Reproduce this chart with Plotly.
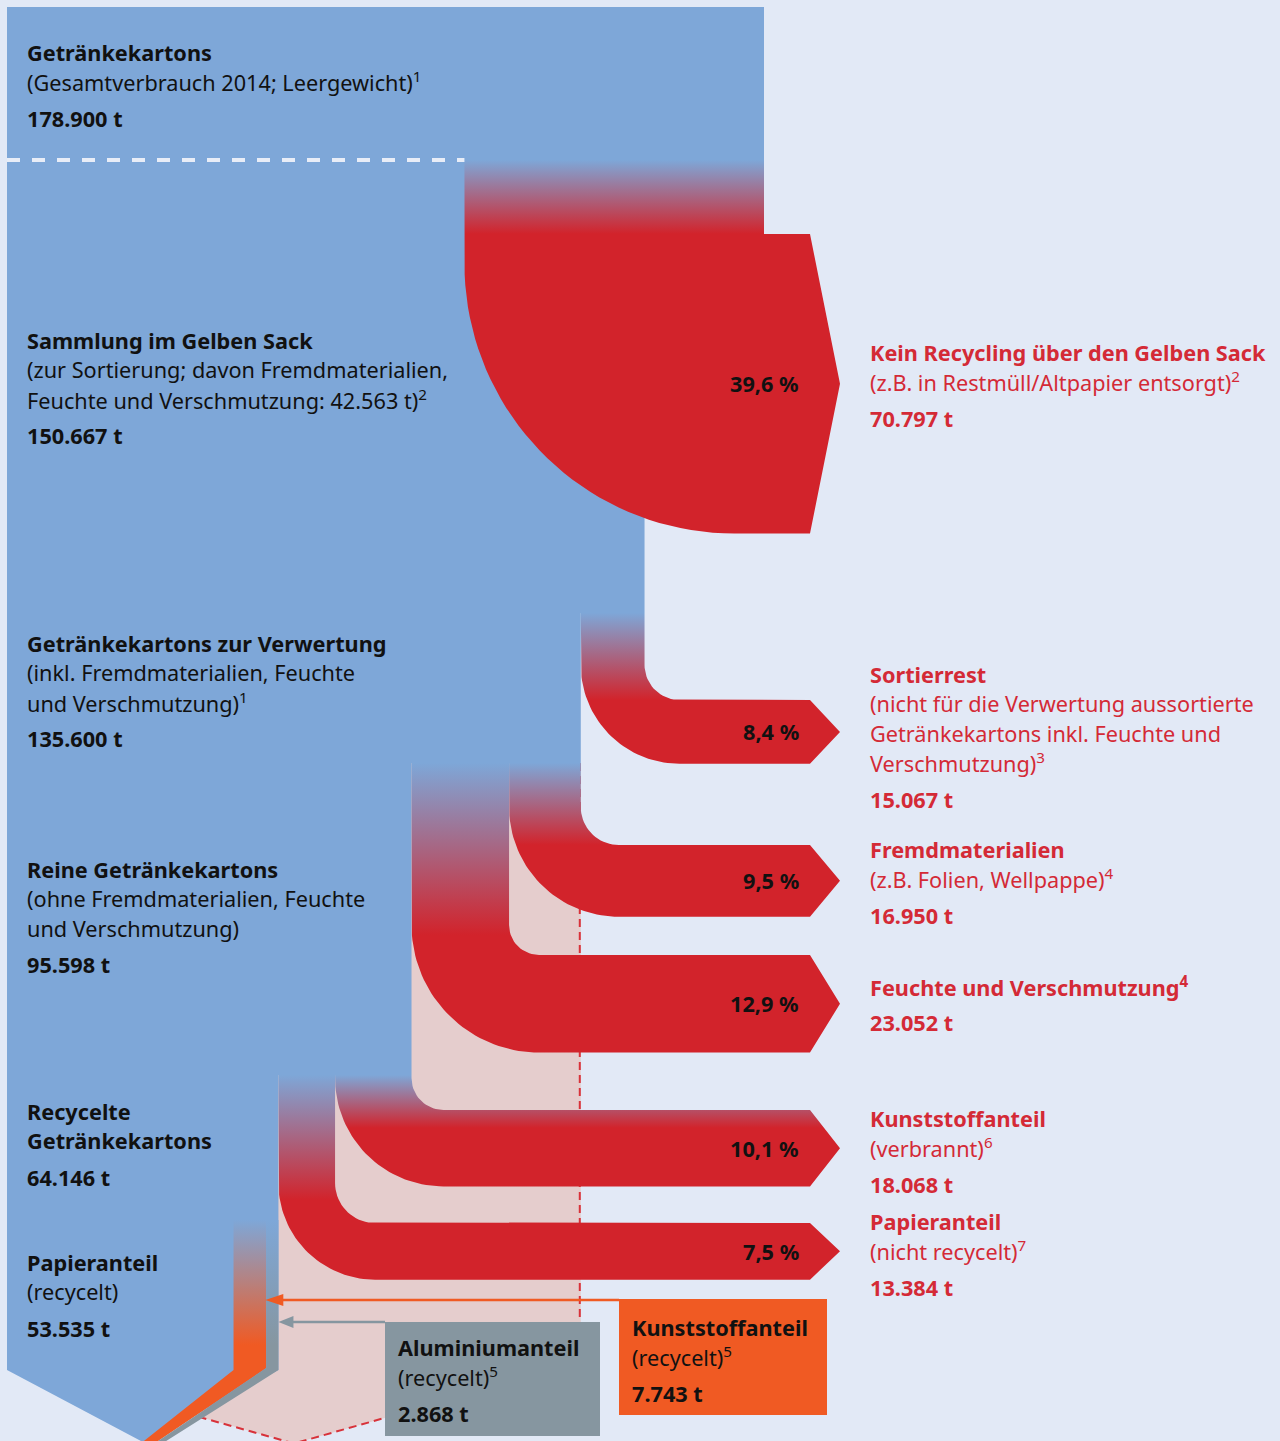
import numpy as np
import plotly.graph_objects as go

# ---------------- data ----------------
stage_titles = [["Getränkekartons"], ["Sammlung im Gelben Sack"], ["Getränkekartons zur Verwertung"],
                ["Reine Getränkekartons"], ["Recycelte", "Getränkekartons"], ["Papieranteil"]]
stage_notes = [
    ["(Gesamtverbrauch 2014; Leergewicht)<sup>1</sup>"],
    ["(zur Sortierung; davon Fremdmaterialien,", "Feuchte und Verschmutzung: 42.563 t)<sup>2</sup>"],
    ["(inkl. Fremdmaterialien, Feuchte", "und Verschmutzung)<sup>1</sup>"],
    ["(ohne Fremdmaterialien, Feuchte", "und Verschmutzung)"],
    [],
    ["(recycelt)"],
]
stage_tonnes = [178900, 150667, 135600, 95598, 64146, 53535]

loss_titles = [["Kein Recycling über den Gelben Sack"], ["Sortierrest"], ["Fremdmaterialien"],
               ["Feuchte und Verschmutzung<sup>4</sup>"], ["Kunststoffanteil"], ["Papieranteil"]]
loss_notes = [
    ["(z.B. in Restmüll/Altpapier entsorgt)<sup>2</sup>"],
    ["(nicht für die Verwertung aussortierte", "Getränkekartons inkl. Feuchte und", "Verschmutzung)<sup>3</sup>"],
    ["(z.B. Folien, Wellpappe)<sup>4</sup>"],
    [],
    ["(verbrannt)<sup>6</sup>"],
    ["(nicht recycelt)<sup>7</sup>"],
]
loss_tonnes = [70797, 15067, 16950, 23052, 18068, 13384]
loss_source = [0, 1, 2, 2, 3, 3]

recycled_titles = [["Aluminiumanteil"], ["Kunststoffanteil"]]
recycled_notes = [["(recycelt)<sup>5</sup>"], ["(recycelt)<sup>5</sup>"]]
recycled_tonnes = [2868, 7743]

# ---------------- style / layout ----------------
W, H = 1280, 1441
BG = "#e2e9f6"
BLUE = "#7ea7d8"
RED = "#d2232b"
PINK = "#e5cdcd"
ORANGE = "#f05a23"
GRAY = "#8696a0"
TXT = "#111111"
TXT_RED = "#d42a36"
FONT = "Noto Sans"
FS = 21.7

X0 = 7
FULL_W = 757
S = FULL_W / stage_tonnes[0]
TOP_Y = 7
COL_TOP = [160, 613, 763, 763, 1075, 1075]
BAND_TOP = [234, 700, 845, 955, 1110, 1223]
GRAD_END = [234, 700, 845, 935, 1128, 1200]
R_IN = [0, 35, 38, 30, 32, 40]
R_OUT_FIXED = [270, None, None, None, None, None]
ARROW_END, ARROW_TIP = 810, 840
BOTTOM_Y = 1370
STRIP_TOP, STRIP_GRAD_END = 1220, 1345
GHOST_BOTTOM = 1363
GHOST_SLOPE = 0.2806
LEFT_TX, RIGHT_TX, PCT_X = 25, 868, 801
LEFT_Y = [52, 340, 643, 869, 1111, 1262]
RIGHT_Y = [352, 674, 849, 986, 1118, 1221]
LINE, TGAP = 29.5, 36.5
GRAY_BOX = (385, 600, 1322, 1436)
ORANGE_BOX = (619, 827, 1299, 1415)

fig = go.Figure()


def poly(pts, color, grad=None):
    xs = [p[0] for p in pts] + [pts[0][0]]
    ys = [p[1] for p in pts] + [pts[0][1]]
    tr = go.Scatter(x=xs, y=ys, mode="lines", fill="toself", fillcolor=color,
                    line=dict(width=0, color=color), hoverinfo="skip", showlegend=False)
    if grad is not None:
        c0, c1, y0, y1 = grad
        tr.fillgradient = dict(type="vertical", colorscale=[[0, c0], [1, c1]], start=y0, stop=y1)
    fig.add_trace(tr)


def line(xs, ys, color, width, dash="solid"):
    fig.add_trace(go.Scatter(x=xs, y=ys, mode="lines", line=dict(color=color, width=width, dash=dash),
                             hoverinfo="skip", showlegend=False))


def fmt_t(v):
    return f"{v:,}".replace(",", ".") + " t"


def fmt_pct(v):
    return f"{v / stage_tonnes[0] * 100:.1f}".replace(".", ",") + " %"


# stage right edges
R = [X0 + S * t for t in stage_tonnes]

# loss columns
loss_x = []
prev_src, prev_xl = None, None
for i, t in enumerate(loss_tonnes):
    src = loss_source[i]
    xr = R[src] if src != prev_src else prev_xl
    xl = xr - S * t
    loss_x.append((xl, xr))
    prev_src, prev_xl = src, xl

# bottom chevron of recycled column
apex = ((X0 + R[4]) / 2, BOTTOM_Y + 0.53 * (R[4] - X0) / 2)
kun_edge = R[5] + S * recycled_tonnes[1]

# ghost (pink) chevron for the 135.600 t column
g_apex = ((X0 + R[2]) / 2, GHOST_BOTTOM + GHOST_SLOPE * (R[2] - X0) / 2)
poly([(X0, COL_TOP[2]), (R[2], COL_TOP[2]), (R[2], GHOST_BOTTOM), g_apex, (X0, GHOST_BOTTOM)], PINK)
line([R[2] - 1, R[2] - 1, g_apex[0], X0], [COL_TOP[2], GHOST_BOTTOM, g_apex[1], GHOST_BOTTOM],
     "#d8323a", 2, "8px,5px")

# blue main column
poly([(X0, TOP_Y), (R[0], TOP_Y), (R[0], COL_TOP[0]), (R[1], COL_TOP[0]), (R[1], COL_TOP[1]),
      (R[2], COL_TOP[1]), (R[2], COL_TOP[2]), (R[3], COL_TOP[2]), (R[3], COL_TOP[4]),
      (R[4], COL_TOP[4]), (R[4], BOTTOM_Y), apex, (X0, BOTTOM_Y)], BLUE)

# loss flows
pct_y = []
for i, t in enumerate(loss_tonnes):
    xl, xr = loss_x[i]
    w = xr - xl
    yt = BAND_TOP[i]
    yb = yt + w
    ri = R_IN[i]
    ro = R_OUT_FIXED[i] if R_OUT_FIXED[i] else w + ri
    pts = [(xl, COL_TOP[i])]
    cx, cy = xl + ro, yb - ro
    for a in np.linspace(0, np.pi / 2, 40):
        pts.append((cx - ro * np.cos(a), cy + ro * np.sin(a)))
    pts += [(ARROW_END, yb), (ARROW_TIP, (yt + yb) / 2), (ARROW_END, yt)]
    if ri > 0:
        cx, cy = xr + ri, yt - ri
        for a in np.linspace(np.pi / 2, 0, 20):
            pts.append((cx - ri * np.cos(a), cy + ri * np.sin(a)))
    else:
        pts.append((xr, yt))
    pts.append((xr, COL_TOP[i]))
    poly(pts, RED, (BLUE, RED, COL_TOP[i], GRAD_END[i]))
    pct_y.append((yt + yb) / 2)

# recycled strips (plastic orange, aluminium gray)
poly([(R[5], STRIP_TOP), (kun_edge, STRIP_TOP), (kun_edge, BOTTOM_Y - 2),
      (apex[0] + 14, apex[1]), (apex[0], apex[1]), (R[5], BOTTOM_Y)], ORANGE,
     (BLUE, ORANGE, STRIP_TOP, STRIP_GRAD_END))
poly([(kun_edge, STRIP_TOP), (R[4], STRIP_TOP), (R[4], BOTTOM_Y),
      (apex[0] + 22, apex[1]), (apex[0] + 14, apex[1]), (kun_edge, BOTTOM_Y - 2)], GRAY,
     (BLUE, GRAY, STRIP_TOP, STRIP_GRAD_END))

# white dashed separator
line([X0, loss_x[0][0]], [COL_TOP[0], COL_TOP[0]], "#e8edf7", 4, "13px,12px")

# pointer arrows
ob = ORANGE_BOX
gb = GRAY_BOX
line([ob[0], kun_edge + 16], [ob[2] + 1, ob[2] + 1], ORANGE, 2.5)
poly([(kun_edge - 1, ob[2] + 1), (kun_edge + 17, ob[2] - 5), (kun_edge + 17, ob[2] + 7)], ORANGE)
line([gb[0], R[4] + 14], [gb[2], gb[2]], GRAY, 2.5)
poly([(R[4], gb[2]), (R[4] + 15, gb[2] - 6), (R[4] + 15, gb[2] + 6)], GRAY)

# boxes
poly([(gb[0], gb[2]), (gb[1], gb[2]), (gb[1], gb[3]), (gb[0], gb[3])], GRAY)
poly([(ob[0], ob[2]), (ob[1], ob[2]), (ob[1], ob[3]), (ob[0], ob[3])], ORANGE)

# ---------------- text ----------------
ann = []


def text(x, y, s, color=TXT, anchor="left"):
    ann.append(dict(x=x, y=y, xref="x", yref="y", text=s, showarrow=False, xanchor=anchor,
                    yanchor="middle", font=dict(family=FONT, size=FS, color=color)))


def block(x, y0, titles, notes, tonnes, color):
    y = y0
    for t in titles:
        text(x, y, f"<b>{t}</b>", color)
        y += LINE
    for n in notes:
        text(x, y, n, color)
        y += LINE
    text(x, y - LINE + TGAP, f"<b>{fmt_t(tonnes)}</b>", color)


for i in range(len(stage_tonnes)):
    block(LEFT_TX, LEFT_Y[i], stage_titles[i], stage_notes[i], stage_tonnes[i], TXT)
for i in range(len(loss_tonnes)):
    block(RIGHT_TX, RIGHT_Y[i], loss_titles[i], loss_notes[i], loss_tonnes[i], TXT_RED)
    text(PCT_X, pct_y[i], f"<b>{fmt_pct(loss_tonnes[i])}</b>", TXT, "right")

block(gb[0] + 11, gb[2] + 25, recycled_titles[0], recycled_notes[0], recycled_tonnes[0], TXT)
block(ob[0] + 11, ob[2] + 28, recycled_titles[1], recycled_notes[1], recycled_tonnes[1], TXT)

fig.update_layout(
    width=W, height=H, margin=dict(l=0, r=0, t=0, b=0, pad=0),
    paper_bgcolor=BG, plot_bgcolor=BG, showlegend=False, annotations=ann,
    xaxis=dict(range=[0, W], visible=False, fixedrange=True),
    yaxis=dict(range=[H, 0], visible=False, fixedrange=True),
)
fig.write_html("out.html", config={"displayModeBar": False})
